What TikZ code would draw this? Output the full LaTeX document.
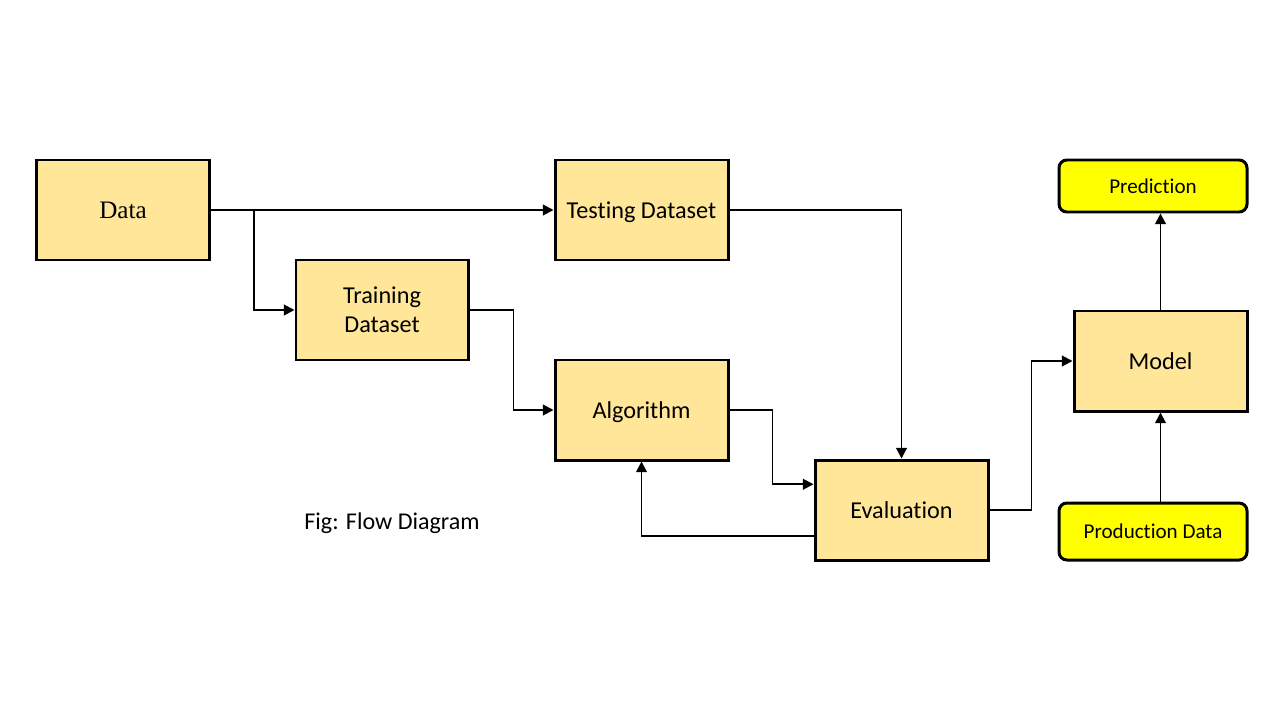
\documentclass[tikz,border=0pt]{standalone}
\usepackage{fontspec}
\setmainfont{Carlito}[Ligatures={NoCommon}]
\newfontfamily\timesfont{Liberation Serif}
\usetikzlibrary{arrows.meta,calc}
\definecolor{boxfill}{HTML}{FFE699}
\definecolor{yel}{HTML}{FFFF00}
\begin{document}
\begin{tikzpicture}[x=0.02cm,y=-0.02cm,
  stepbox/.style={draw=black,line width=1.7pt,fill=boxfill,minimum width=173*0.02cm,minimum height=100*0.02cm,inner sep=0pt,align=center,font=\fontsize{13.8}{16.5}\selectfont},
  oneline/.style={text height=9.6pt,text depth=0pt},
  roundbox/.style={draw=black,line width=1.7pt,fill=yel,rounded corners=4.5pt,minimum width=188*0.02cm,inner sep=0pt,text height=8.2pt,text depth=0pt,font=\fontsize{12}{14}\selectfont},
  conn/.style={line width=1.1pt,-{Triangle[length=6pt,width=6pt]}}]
\useasboundingbox (0,0) rectangle (1280,720);
\fill[white] (0,0) rectangle (1280,720);
\node[stepbox,oneline,font=\timesfont\fontsize{14.3}{17}\selectfont] (data) at (123,210) {Data};
\node[stepbox,oneline] (test) at (641.5,210) {Testing Dataset};
\node[stepbox,minimum width=172*0.02cm] (train) at (382,310) {Training\\Dataset};
\node[stepbox,oneline] (algo) at (641.5,410) {Algorithm};
\node[stepbox,oneline] (eval) at (901.5,510) {Evaluation};
\node[stepbox,oneline] (model) at (1160.5,361) {Model};
\node[roundbox,minimum height=52*0.02cm] (pred) at (1153,186) {Prediction};
\node[roundbox,minimum height=57*0.02cm] (prod) at (1153,531.5) {Production Data};
\node[font=\fontsize{13.7}{16.5}\selectfont] (cap) at (392,523) {Fig: Flow Diagram};
\coordinate (split) at ($(data.east)+(43,0)$);
\draw[conn] (data.east) -- (test.west);
\draw[conn] (split) |- (train.west);
\draw[conn] (train.east) -- ++(44,0) |- (algo.west);
\draw[conn] (test.east) -| (eval.north);
\draw[conn] (algo.east) -- ++(43,0) |- ($(eval.north west)!0.25!(eval.south west)$);
\draw[conn] ($(eval.north west)!0.75!(eval.south west)$) -| (algo.south);
\draw[conn] (eval.east) -- ++(42,0) |- (model.west);
\draw[conn] (model.north) -- (model.north |- pred.south);
\draw[conn] (prod.north -| model.south) -- (model.south);
\end{tikzpicture}
\end{document}
